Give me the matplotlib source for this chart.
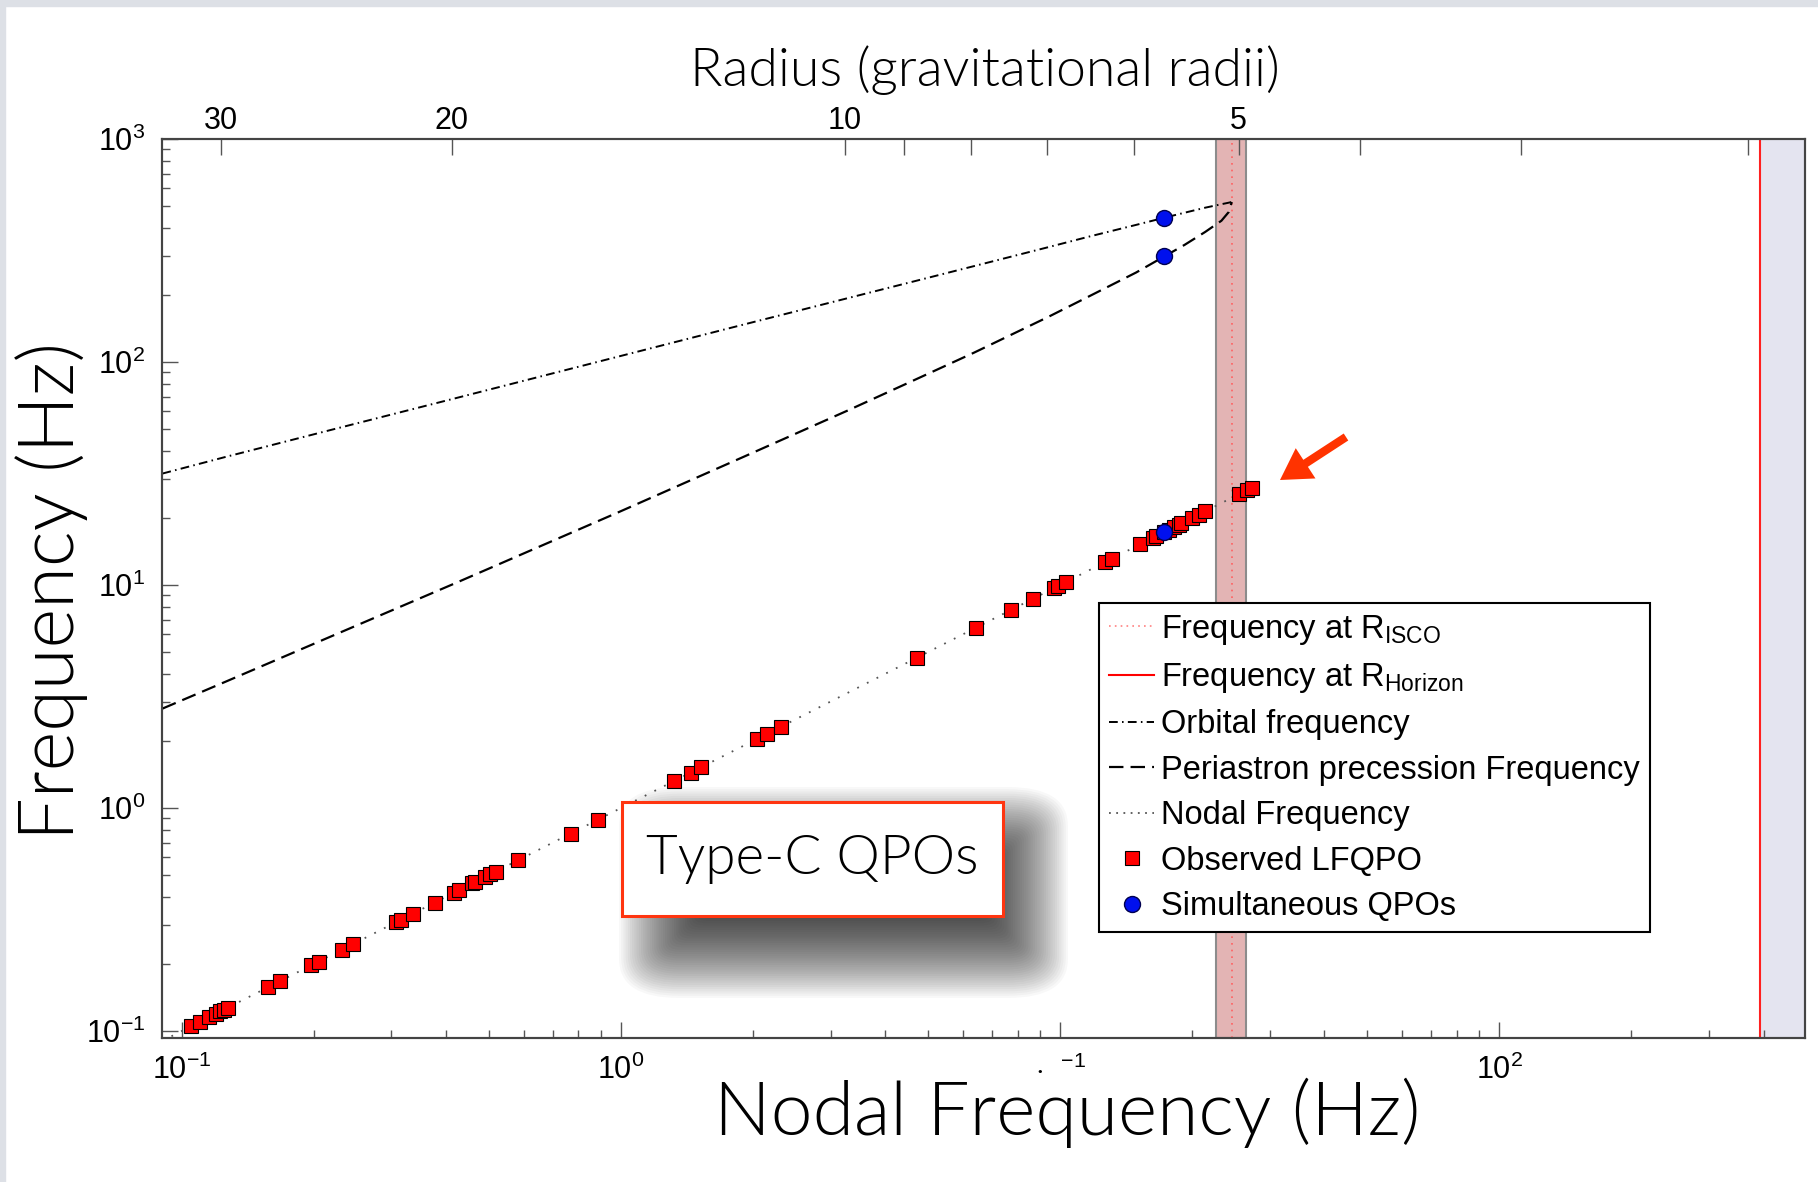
import matplotlib
matplotlib.use('Agg')
import matplotlib.pyplot as plt
from matplotlib.patches import Rectangle, FancyBboxPatch, FancyArrowPatch
from matplotlib.lines import Line2D
from matplotlib.ticker import FixedLocator, NullFormatter, NullLocator

plt.rcParams['font.family'] = ['Liberation Sans', 'DejaVu Sans']
plt.rcParams['mathtext.fontset'] = 'custom'
plt.rcParams['mathtext.rm'] = 'Liberation Sans'
plt.rcParams['mathtext.it'] = 'Liberation Sans:italic'
plt.rcParams['mathtext.bf'] = 'Liberation Sans:bold'

# observed type-C LFQPOs (nodal frequency, Hz) - they sit on the nodal line
lfqpo_nu = [0.1049, 0.1101, 0.1154, 0.1196, 0.1223, 0.1245, 0.1272, 0.1567, 0.1673,
            0.1967, 0.2048, 0.2314, 0.2455, 0.3071, 0.3152, 0.3352, 0.3768, 0.4169,
            0.4272, 0.4589, 0.4645, 0.4895, 0.5033, 0.5186, 0.5829, 0.768, 0.885,
            1.320, 1.440, 1.524, 2.044, 2.146, 2.309, 4.727, 6.427, 7.736, 8.664,
            9.705, 9.90, 10.33, 12.68, 13.13, 15.23, 16.27, 16.56, 17.21, 17.67,
            18.14, 18.62, 18.88, 19.97, 20.68, 21.42, 25.50, 26.65, 27.35]

# simultaneous QPO triplet
sim_nu = [17.2, 17.2, 17.2]
sim_freq = [444, 298, 17.2]

# model curves
curve_nu = [0.0903, 0.1256, 0.216, 0.42, 0.987, 1.91, 3.29, 4.49, 6.36, 9.44,
            11.7, 14.9, 17.3, 19.2, 21.4, 23.3, 24.2, 24.6]
orbital = [31.6, 37.5, 49.3, 68.8, 105.8, 147.5, 193.5, 226, 269, 328,
           366, 412, 444, 467, 492, 510, 518, 522]
periastron = [2.79, 3.68, 5.82, 10.2, 21.2, 37.7, 60.7, 80.3, 110, 160,
              198, 252, 298, 335, 383, 430, 470, 522]
nodal_line = [0.09, 25.5]

isco_nu = 24.6
isco_band = [22.7, 26.5]
horizon_nu = 393
x_range = [0.0901, 497]
y_range = [0.093, 1000]

# top axis: radius (gravitational radii) against nodal frequency
radius_labels = ['30', '20', '10', '', '', '', '', '5', '', '', '']
radius_nu = [0.1227, 0.412, 3.23, 4.42, 6.26, 9.36, 14.7, 25.5, 48.3, 112, 368]

W, H = 1818, 1182
fig = plt.figure(figsize=(W / 100, H / 100), dpi=100)


def fx(px):
    return px / W


def fy(py):
    return 1 - py / H


# slide-like grey border on top and left
fig.add_artist(Rectangle((0, fy(6)), 1, 6 / H, transform=fig.transFigure,
                         color='#dde0e6', zorder=-5))
fig.add_artist(Rectangle((0, 0), 5 / W, 1, transform=fig.transFigure,
                         color='#dde0e6', zorder=-5))

ax = fig.add_axes([fx(162), fy(1038), fx(1805) - fx(162), (1038 - 139) / H])

ax.axvspan(isco_band[0], isco_band[1], facecolor='#e3b4b4', edgecolor='#8c8c8c',
           lw=1.5, zorder=1)
ax.axvspan(horizon_nu, x_range[1], facecolor='#e4e4f0', edgecolor='none', zorder=1)
ax.axvline(horizon_nu, color='#ff2020', lw=1.5, zorder=2)
ax.axvline(isco_nu, color='#ff6060', lw=1.2, ls=(0, (1, 3)), zorder=2)

orb_ls = (0, (4.5, 2.2, 0.8, 2.2))
per_ls = (0, (6.5, 3.2))
nod_ls = (0, (1, 5))
ax.plot(curve_nu, orbital, color='k', lw=1.4, ls=orb_ls, zorder=3)
ax.plot(curve_nu, periastron, color='k', lw=1.6, ls=per_ls, zorder=3)
ax.plot(nodal_line, nodal_line, color='#555555', lw=1.3, ls=nod_ls, zorder=3)
ax.plot(lfqpo_nu, lfqpo_nu, ls='none', marker='s', ms=9.5, mfc='red',
        mec='black', mew=0.8, zorder=4)
ax.plot(sim_nu, sim_freq, ls='none', marker='o', ms=11.5, mfc='#0010ee',
        mec='#000050', mew=1, zorder=5)

ax.set_xscale('log')
ax.set_yscale('log')
ax.set_xlim(x_range)
ax.set_ylim(y_range)

ax.set_xticks([0.1, 1, 10, 100])
ax.set_xticklabels([r'$10^{-1}$', r'$10^{0}$', r'$\cdot\ \ {}^{-1}$', r'$10^{2}$'])
ax.set_yticks([0.1, 1, 10, 100, 1000])
ax.set_yticklabels([r'$10^{-1}$', r'$10^{0}$', r'$10^{1}$', r'$10^{2}$', r'$10^{3}$'])
ax.xaxis.set_minor_formatter(NullFormatter())
ax.yaxis.set_minor_formatter(NullFormatter())
ax.tick_params(which='both', direction='in', top=False, right=False,
               color='#555555', width=1, labelsize=22)
ax.tick_params(which='major', length=11.5, pad=12)
ax.tick_params(which='minor', length=5.8)
for s in ax.spines.values():
    s.set_color('#444444')
    s.set_linewidth(1.5)

ax2 = ax.twiny()
ax2.set_xscale('log')
ax2.set_xlim(ax.get_xlim())
ax2.xaxis.set_major_locator(FixedLocator(radius_nu))
ax2.set_xticklabels(radius_labels)
ax2.xaxis.set_minor_locator(NullLocator())
ax2.tick_params(direction='in', length=11.5, color='#555555', width=1,
                labelsize=22, pad=2)
for s in ax2.spines.values():
    s.set_color('#444444')
    s.set_linewidth(1.5)

handles = [
    Line2D([], [], color='#ff8080', lw=1.2, ls=(0, (1, 2.5))),
    Line2D([], [], color='red', lw=1.5),
    Line2D([], [], color='k', lw=1.4, ls=orb_ls),
    Line2D([], [], color='k', lw=1.6, ls=per_ls),
    Line2D([], [], color='#555555', lw=1.3, ls=(0, (1, 3))),
    Line2D([], [], ls='none', marker='s', ms=9.5, mfc='red', mec='k', mew=0.8),
    Line2D([], [], ls='none', marker='o', ms=11.5, mfc='#0010ee', mec='#000050'),
]
labels = ['Frequency at R$_{\\rm ISCO}$', 'Frequency at R$_{\\rm Horizon}$',
          'Orbital frequency', 'Periastron precession Frequency',
          'Nodal Frequency', 'Observed LFQPO', 'Simultaneous QPOs']
leg = ax.legend(handles, labels, loc='upper left', bbox_to_anchor=(0.5703, 0.4839),
                borderaxespad=0, fontsize=23.5, frameon=True, fancybox=False,
                edgecolor='black', framealpha=1, handlelength=1.4,
                handletextpad=0.2, labelspacing=0.44, borderpad=0.3)
leg.get_frame().set_linewidth(1.5)
leg.set_zorder(10)

big = dict(family=['Lato', 'DejaVu Sans'], fontweight=300, color='black')
fig.text(fx(985), fy(70), 'Radius (gravitational radii)', ha='center', va='center',
         fontsize=38.5, **big)
fig.text(fx(1067), fy(1113), 'Nodal Frequency (Hz)', ha='center', va='center',
         fontsize=54, **big)
fig.text(fx(52), fy(591), 'Frequency (Hz)', ha='center', va='center',
         rotation=90, fontsize=54.5, **big)

# soft drop shadow behind the "Type-C QPOs" box
sx0, sy0, sx1, sy1 = 667, 835, 1020, 950
n = 40
for i in range(n):
    e = 48 - i * 2.2
    r = max(e, 0) + 12
    fig.add_artist(FancyBboxPatch((fx(sx0 - e), fy(sy1 + e)),
                                  (sx1 - sx0 + 2 * e) / W, (sy1 - sy0 + 2 * e) / H,
                                  boxstyle='round,pad=0,rounding_size=%f' % (r / W),
                                  transform=fig.transFigure, fc='black', ec='none',
                                  alpha=0.027, zorder=19))
fig.add_artist(Rectangle((fx(622), fy(916)), (1003 - 622) / W, (916 - 802) / H,
                         transform=fig.transFigure, fc='white', ec='#ff3510',
                         lw=2.2, zorder=20))
fig.text(fx(812), fy(859), 'Type-C QPOs', ha='center', va='center', fontsize=39.5,
         zorder=21, **big)

fig.add_artist(FancyArrowPatch((fx(1346), fy(437)), (fx(1280), fy(480)),
                               transform=fig.transFigure,
                               arrowstyle='simple,head_length=1.1,head_width=1.3,tail_width=0.3',
                               mutation_scale=20, fc='#ff3300', ec='none',
                               shrinkA=0, shrinkB=0, zorder=20))

fig.savefig('out.png', dpi=100)
